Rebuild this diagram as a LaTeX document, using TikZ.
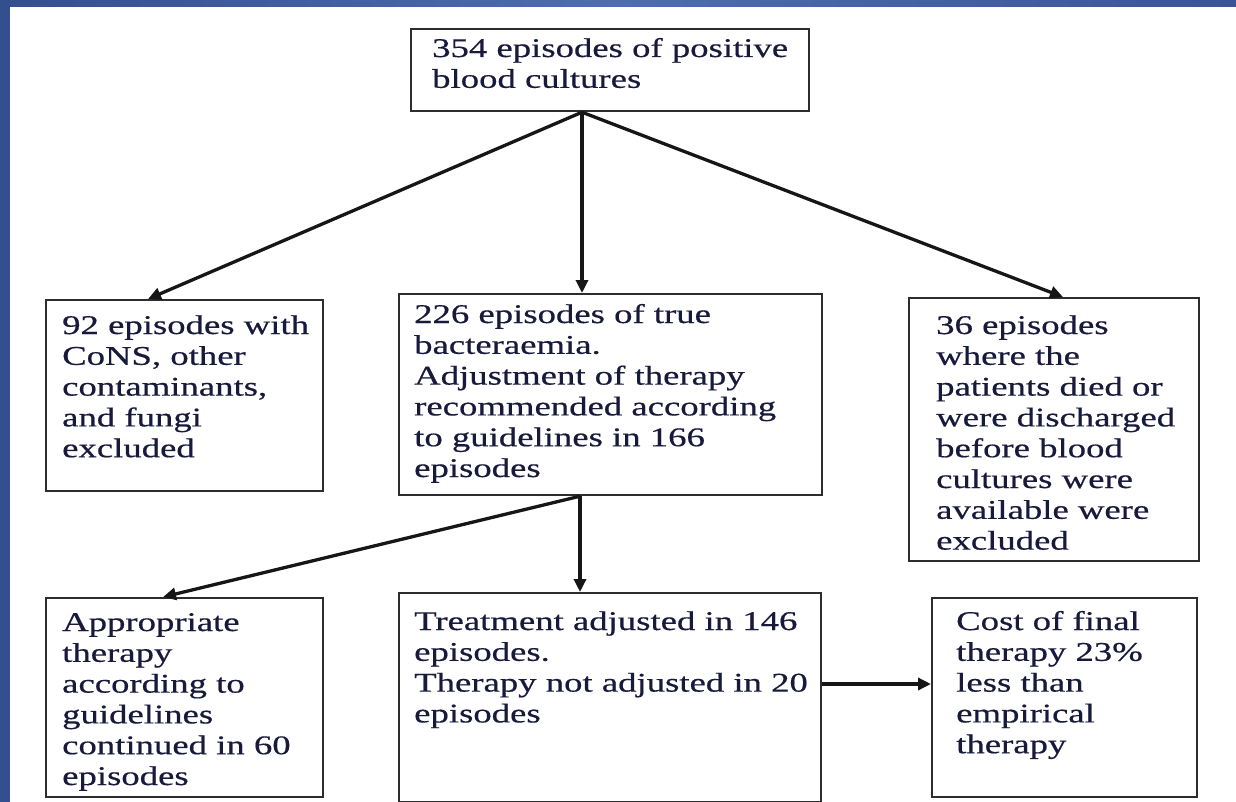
\documentclass[tikz,border=0pt]{standalone}
\usepackage{fontspec}
\setmainfont{Liberation Serif}[FakeStretch=1.36,FakeBold=0.5]
\usetikzlibrary{arrows.meta}
\definecolor{txtcol}{RGB}{24,26,60}
\definecolor{boxcol}{RGB}{45,45,45}
\definecolor{arrcol}{RGB}{22,22,22}
\definecolor{barA}{RGB}{52,79,142}
\definecolor{barB}{RGB}{78,108,178}
\definecolor{barC}{RGB}{58,84,150}
\begin{document}
\begin{tikzpicture}[x=1pt,y=-1pt,
  box/.style={draw=boxcol,line width=2.2pt,rectangle,inner sep=0pt,anchor=north west},
  txt/.style={anchor=base west,align=left,inner sep=0pt,text=txtcol,
    font=\fontsize{27}{30.8}\selectfont},
  arr/.style={draw=arrcol,line width=3.3pt,-{Triangle[length=13pt,width=12pt]}}]
\useasboundingbox (0,0) rectangle (1236,802);
\fill[white] (0,0) rectangle (1236,802);
\shade[left color=barA,right color=barC,middle color=barB] (0,0) rectangle (1236,7);
\fill[barA] (0,0) rectangle (10,802);
% boxes
\node[box,minimum width=398pt,minimum height=82pt] (top) at (410,28) {};
\node[box,minimum width=277pt,minimum height=191pt] (L1) at (45,299) {};
\node[box,minimum width=423pt,minimum height=201pt] (C1) at (398,293) {};
\node[box,minimum width=290pt,minimum height=263pt] (R1) at (908,297) {};
\node[box,minimum width=277pt,minimum height=199pt] (L2) at (45,597) {};
\node[box,minimum width=422pt,minimum height=209pt] (C2) at (398,592) {};
\node[box,minimum width=265pt,minimum height=199pt] (R2) at (931,597) {};
% texts (anchored at the baseline of their last line)
\node[txt] (topt) at (432,87.8) {354 episodes of positive\\blood cultures};
\node[txt] (L1t) at (62,457.2) {92 episodes with\\CoNS, other\\contaminants,\\and fungi\\excluded};
\node[txt] (C1t) at (414,477) {226 episodes of true\\bacteraemia.\\Adjustment of therapy\\recommended according\\to guidelines in 166\\episodes};
\node[txt] (R1t) at (936,549.6) {36 episodes\\where the\\patients died or\\were discharged\\before blood\\cultures were\\available were\\excluded};
\node[txt] (L2t) at (62,785) {Appropriate\\therapy\\according to\\guidelines\\continued in 60\\episodes};
\node[txt] (C2t) at (414,722.4) {Treatment adjusted in 146\\episodes.\\Therapy not adjusted in 20\\episodes};
\node[txt] (R2t) at (956,753.2) {Cost of final\\therapy 23\%\\less than\\empirical\\therapy};
% connectors
\draw[arr] ([xshift=172pt]top.south west) -- ([xshift=103pt]L1.north west);
\draw[arr] ([xshift=172pt]top.south west) -- ([xshift=184pt]C1.north west);
\draw[arr] ([xshift=172pt]top.south west) -- ([xshift=155pt]R1.north west);
\draw[arr] ([xshift=182pt]C1.south west) -- ([xshift=118pt]L2.north west);
\draw[arr] ([xshift=182pt]C1.south west) -- ([xshift=182pt]C2.north west);
\draw[arr] ([yshift=-92pt]C2.north east) -- ([yshift=-87pt]R2.north west);
\end{tikzpicture}
\end{document}
